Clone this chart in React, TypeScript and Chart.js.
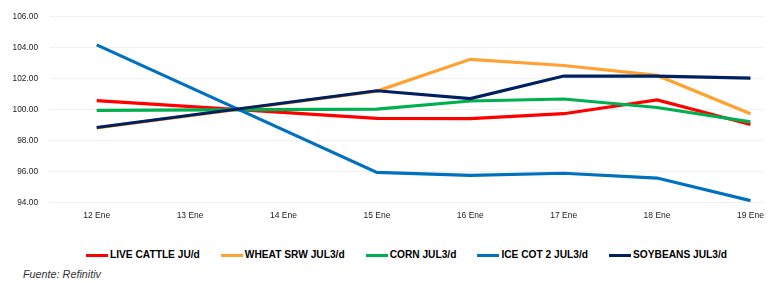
import React, { useEffect, useRef } from "react";
import { Chart, registerables } from "chart.js";

Chart.register(...registerables);

const categories = ["12 Ene", "13 Ene", "14 Ene", "15 Ene", "16 Ene", "17 Ene", "18 Ene", "19 Ene"];
const liveCattle = [100.6, null, null, 99.46, 99.44, 99.76, 100.65, 99.06];
const wheatSrw = [98.85, null, null, 101.22, 103.27, 102.87, 102.23, 99.76];
const corn = [99.97, null, null, 100.06, 100.58, 100.71, 100.16, 99.23];
const iceCot = [104.2, null, null, 95.97, 95.78, 95.92, 95.61, 94.15];
const soybeans = [98.87, null, null, 101.24, 100.73, 102.19, 102.19, 102.06];
const yTicks = [94, 96, 98, 100, 102, 104, 106];

const seriesNames = ["LIVE CATTLE JU/d", "WHEAT SRW JUL3/d", "CORN JUL3/d", "ICE COT 2 JUL3/d", "SOYBEANS JUL3/d"];
const seriesValues = [liveCattle, wheatSrw, corn, iceCot, soybeans];
const seriesColors = ["#ff0000", "#ffa234", "#00b050", "#0070c0", "#002060"];

const FONT = "'Liberation Sans', Arial, sans-serif";

export default function App() {
  const ref = useRef<HTMLCanvasElement | null>(null);

  useEffect(() => {
    document.body.style.margin = "0";
    const canvas = ref.current;
    if (!canvas) return;
    const chart = new Chart(canvas, {
      type: "line",
      data: {
        datasets: seriesNames.map((name, i) => ({
          label: name,
          data: seriesValues[i].map((v, j) => ({ x: j, y: v })),
          borderColor: seriesColors[i],
          backgroundColor: seriesColors[i],
          borderWidth: 3.2,
          pointRadius: 0,
          tension: 0,
          spanGaps: true,
          order: seriesNames.length - 1 - i,
        })),
      },
      options: {
        animation: false,
        responsive: false,
        maintainAspectRatio: false,
        layout: { padding: { top: 14, right: 2, left: 0, bottom: 0 } },
        plugins: { legend: { display: false }, tooltip: { enabled: false } },
        scales: {
          x: {
            type: "linear",
            min: -0.5,
            max: 7.14,
            afterBuildTicks: (axis: any) => {
              axis.ticks = categories.map((_, i) => ({ value: i }));
            },
            afterFit: (scale: any) => {
              scale.height = 29;
            },
            grid: { display: false, drawTicks: false },
            border: { display: false },
            ticks: {
              autoSkip: false,
              maxRotation: 0,
              padding: 8,
              color: "#1a1a1a",
              font: { family: FONT, size: 8.5 },
              callback: (v: any) => categories[Math.round(Number(v))] ?? "",
            },
          },
          y: {
            min: 94,
            max: 106,
            afterBuildTicks: (axis: any) => {
              axis.ticks = yTicks.map((v) => ({ value: v }));
            },
            afterFit: (scale: any) => {
              scale.width = 50;
            },
            grid: { color: "#f1f1f1", drawTicks: false, lineWidth: 1 },
            border: { display: false },
            ticks: {
              padding: 12,
              color: "#1a1a1a",
              font: { family: FONT, size: 8.3 },
              callback: (v: any) => Number(v).toFixed(2),
            },
          },
        },
      },
    });
    return () => chart.destroy();
  }, []);

  return (
    <div style={{ position: "relative", width: 772, height: 283, background: "#fff", overflow: "hidden" }}>
      <canvas ref={ref} width={772} height={232} style={{ position: "absolute", left: 0, top: 0, width: 772, height: 232 }} />
      <div
        style={{
          position: "absolute",
          left: 86,
          top: 248,
          display: "flex",
          alignItems: "center",
          gap: 21,
          fontFamily: FONT,
          fontWeight: "bold",
          fontSize: 10.2,
          color: "#000",
          whiteSpace: "nowrap",
          lineHeight: "14px",
        }}
      >
        {seriesNames.map((name, i) => (
          <div key={name} style={{ display: "flex", alignItems: "center" }}>
            <span style={{ display: "inline-block", width: 22, height: 3, background: seriesColors[i], marginRight: 2 }} />
            <span>{name}</span>
          </div>
        ))}
      </div>
      <div
        style={{
          position: "absolute",
          left: 23,
          top: 267,
          fontFamily: FONT,
          fontStyle: "italic",
          fontSize: 10.8,
          color: "#333",
          lineHeight: "14px",
          whiteSpace: "nowrap",
        }}
      >
        Fuente: Refinitiv
      </div>
    </div>
  );
}
